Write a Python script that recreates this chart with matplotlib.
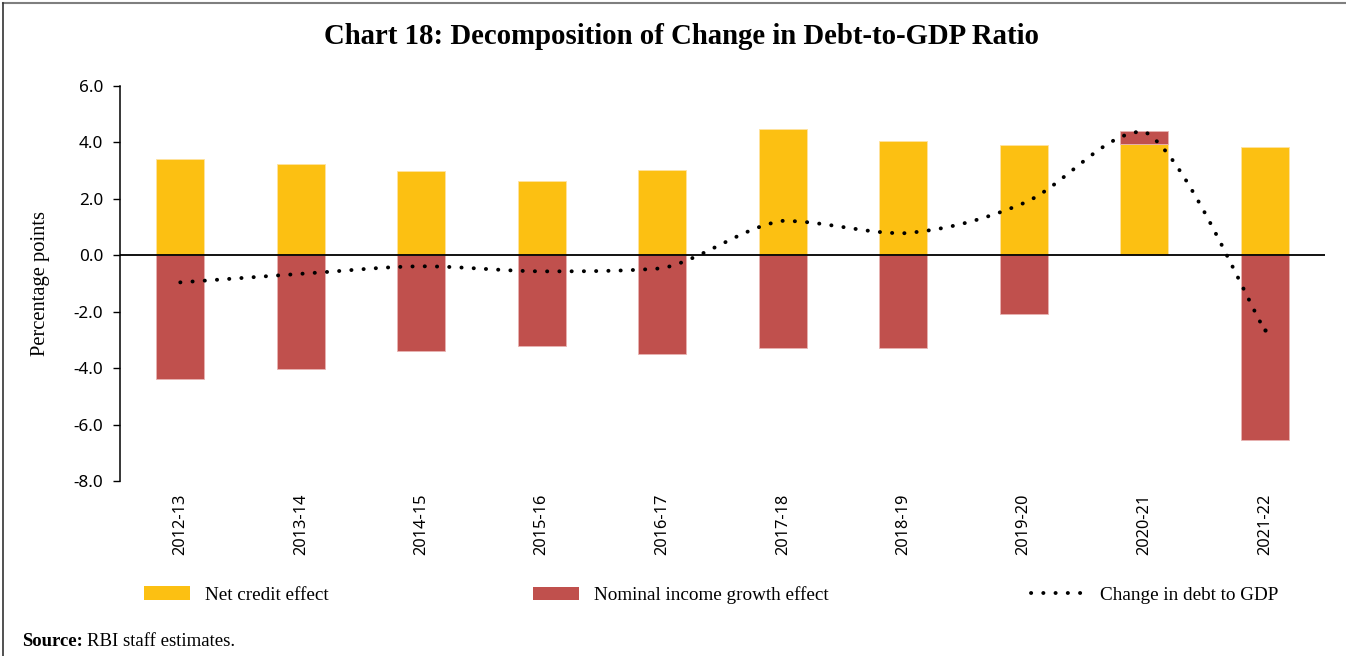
import numpy as np
import matplotlib
matplotlib.use("Agg")
import matplotlib.pyplot as plt
from matplotlib.lines import Line2D
from matplotlib.patches import Patch

years = ["2012-13", "2013-14", "2014-15", "2015-16", "2016-17",
         "2017-18", "2018-19", "2019-20", "2020-21", "2021-22"]
net_credit = [3.43, 3.25, 3.00, 2.64, 3.01, 4.48, 4.05, 3.91, 3.93, 3.85]
nominal_income = [-4.37, -4.02, -3.38, -3.20, -3.50, -3.29, -3.29, -2.08, 0.46, -6.54]
debt_change = [-0.96, -0.66, -0.39, -0.57, -0.46, 1.22, 0.78, 1.85, 4.39, -2.65]

YELLOW = "#FCC012"
RED = "#C0504D"
SERIF = ["Liberation Serif", "DejaVu Serif"]
SANS = ["Noto Sans", "DejaVu Sans"]


def smooth_path(xs, ys, steps=60):
    """Smoothed line through the points: cubic Bezier segments with
    Catmull-Rom handles, clamped so a segment never overshoots its ends."""
    xs = np.asarray(xs, float)
    ys = np.asarray(ys, float)
    n = len(xs)
    t = np.linspace(0, 1, steps, endpoint=False)[:, None]
    pts = []
    for i in range(n - 1):
        p1 = np.array([xs[i], ys[i]])
        p2 = np.array([xs[i + 1], ys[i + 1]])
        p0 = np.array([xs[i - 1], ys[i - 1]]) if i > 0 else p1
        p3 = np.array([xs[i + 2], ys[i + 2]]) if i + 2 < n else p2
        c1 = p1 + (p2 - p0) / 6.0
        c2 = p2 - (p3 - p1) / 6.0
        lo, hi = min(p1[1], p2[1]), max(p1[1], p2[1])
        c1[1] = np.clip(c1[1], lo, hi)
        c2[1] = np.clip(c2[1], lo, hi)
        seg = ((1 - t) ** 3) * p1 + 3 * ((1 - t) ** 2) * t * c1 \
            + 3 * (1 - t) * t ** 2 * c2 + t ** 3 * p2
        pts.append(seg)
    pts.append(np.array([[xs[-1], ys[-1]]]))
    pts = np.vstack(pts)
    return pts[:, 0], pts[:, 1]


fig = plt.figure(figsize=(13.46, 6.56), dpi=100)
ax = fig.add_axes([120 / 1346, 1 - 481 / 656, 1205 / 1346, 395 / 656])

x = np.arange(len(years))
nc = np.array(net_credit)
ni = np.array(nominal_income)
# positive income effect stacks on top of the credit bar, negative goes below zero
ni_bottom = np.where(ni > 0, nc, 0.0)

ax.bar(x, nc, width=0.4, color=YELLOW, edgecolor="#FFE3A0", linewidth=0.6, zorder=2)
ax.bar(x, ni, width=0.4, bottom=ni_bottom, color=RED, edgecolor="#E8B4B3",
       linewidth=0.6, zorder=2)

DOTS = (0, (0.05, 3.1))
sx, sy = smooth_path(x, debt_change)
ax.plot(sx, sy, color="black", lw=2.8, linestyle=DOTS,
        dash_capstyle="round", zorder=4)
# closing dot on the last observation
ax.plot([x[-1]], [debt_change[-1]], "o", color="black", ms=3.0, mew=0, zorder=4)

ax.axhline(0, color="black", lw=1.3, zorder=3)

ax.set_xlim(-0.5, len(years) - 0.5)
ax.set_ylim(-8, 6)
yt = np.arange(-8, 7, 2)
ax.set_yticks(yt)
ax.set_yticklabels([f"{v:.1f}" for v in yt], fontfamily=SANS, fontsize=12.3)
ax.set_xticks(x)
ax.set_xticklabels(years, rotation=90, fontfamily=SANS, fontsize=11.8)
ax.tick_params(axis="x", length=0, pad=9)
ax.tick_params(axis="y", length=5, width=1, direction="out", pad=7)
for side in ("top", "right", "bottom"):
    ax.spines[side].set_visible(False)
ax.spines["left"].set_linewidth(1.1)

ax.set_ylabel("Percentage points", fontfamily=SERIF, fontsize=14.8)
ax.yaxis.set_label_coords(-70 / 1205, 0.5)

fig.text(681 / 1346, 1 - 37 / 656, "Chart 18: Decomposition of Change in Debt-to-GDP Ratio",
         ha="center", va="center", fontfamily=SERIF, fontweight="bold", fontsize=20.7)

# legend entries placed individually along the bottom
leg_kw = dict(frameon=False, prop={"family": SERIF, "size": 13.8},
              handletextpad=0.8, borderpad=0, borderaxespad=0)
LEG_Y = 1 - 595 / 656
entries = [
    (Patch(facecolor=YELLOW), "Net credit effect", 144),
    (Patch(facecolor=RED), "Nominal income growth effect", 533),
]
for handle, label, xpix in entries:
    fig.legend([handle], [label], loc="center left",
               bbox_to_anchor=(xpix / 1346, LEG_Y),
               handlelength=2.4, handleheight=0.68, **leg_kw)
dot_handle = Line2D([], [], color="black", lw=2.8, linestyle=DOTS,
                    dash_capstyle="round")
fig.legend([dot_handle], ["Change in debt to GDP"], loc="center left",
           bbox_to_anchor=(1031 / 1346, LEG_Y), handlelength=2.8, **leg_kw)

# source note
src = fig.text(22 / 1346, 1 - 641 / 656, "Source:", ha="left", va="center",
               fontfamily=SERIF, fontweight="bold", fontsize=13.5)
renderer = fig.canvas.get_renderer()
bb = src.get_window_extent(renderer=renderer)
fig.text((bb.x1 + 4) / 1346, 1 - 641 / 656, "RBI staff estimates.", ha="left",
         va="center", fontfamily=SERIF, fontsize=13.5)

# frame lines around the chart
fig.add_artist(Line2D([3 / 1346, 1], [1 - 3 / 656, 1 - 3 / 656], color="#7F7F7F", lw=1.5))
fig.add_artist(Line2D([3 / 1346, 3 / 1346], [0, 1 - 3 / 656], color="#333333", lw=1.2))

fig.savefig("out.png", dpi=100)
